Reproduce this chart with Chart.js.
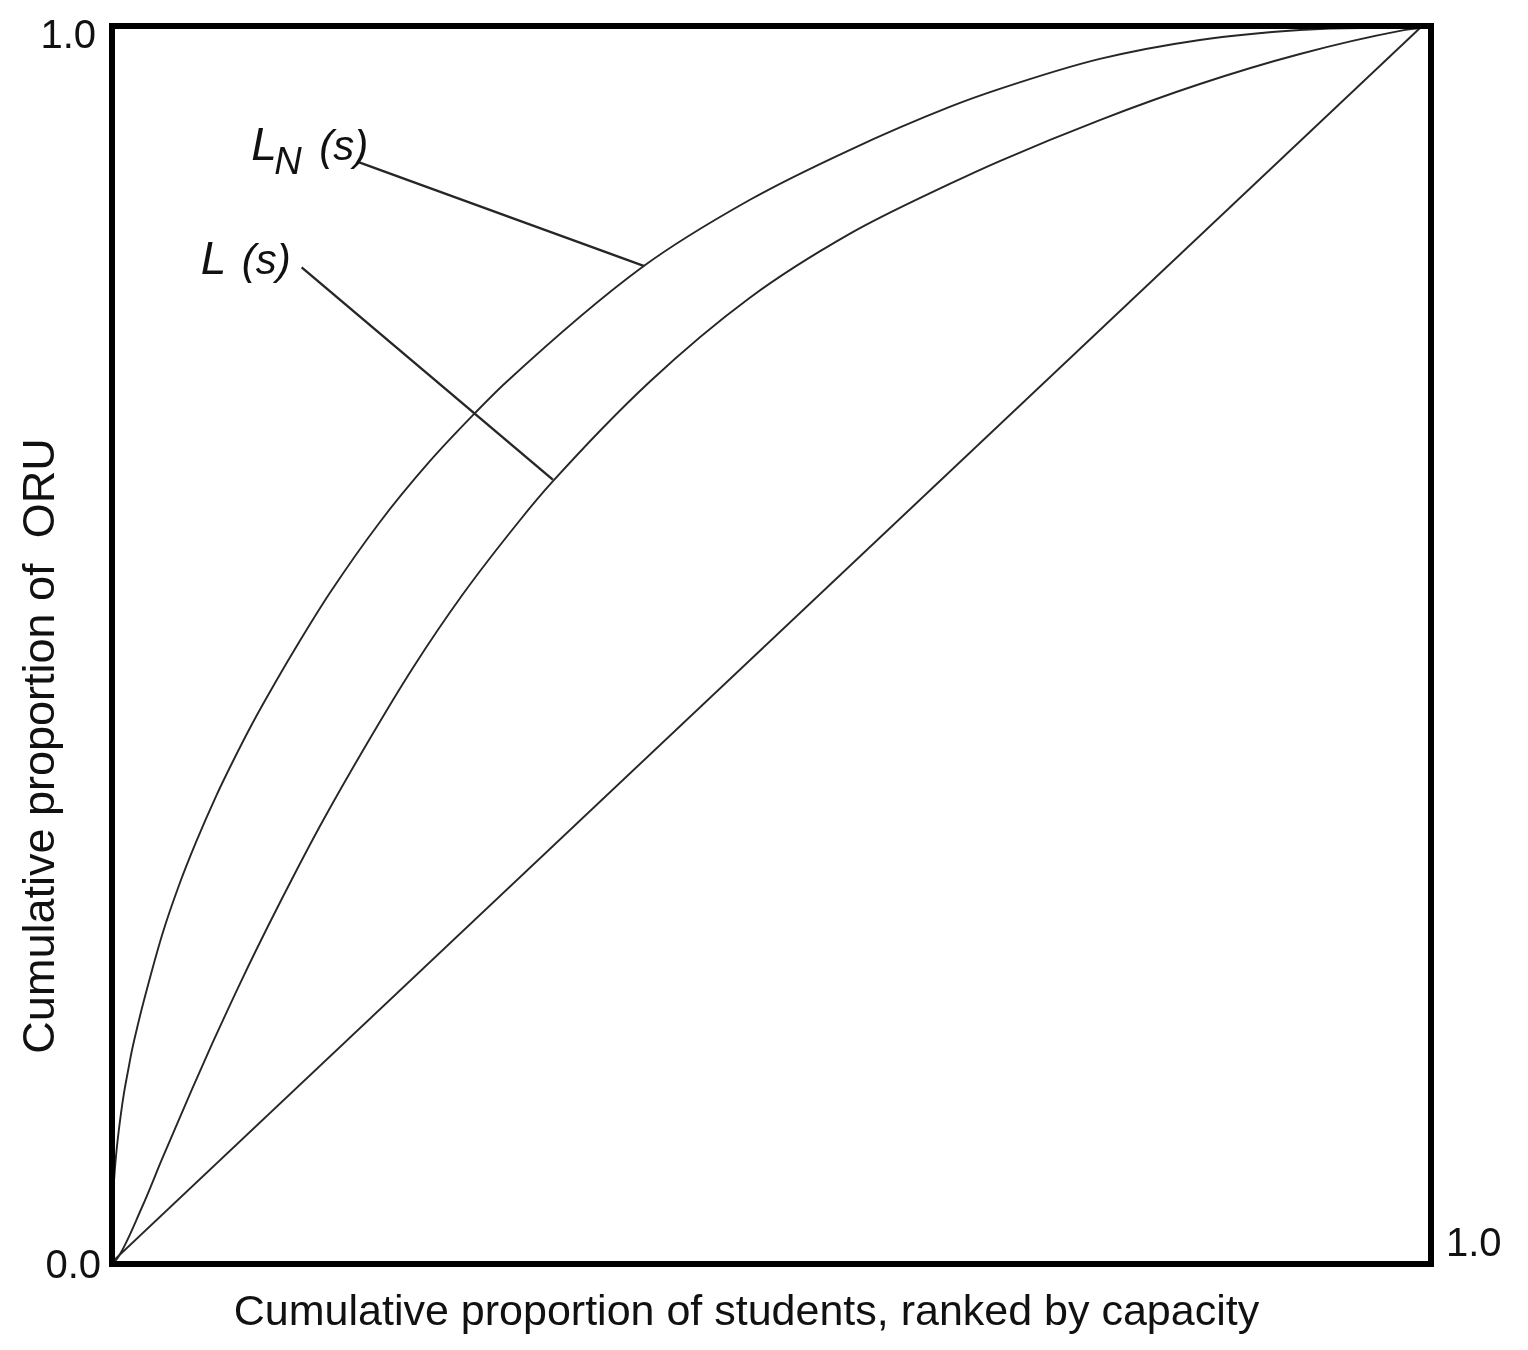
<!DOCTYPE html>
<html>
<head>
<meta charset="utf-8">
<script src="https://cdn.jsdelivr.net/npm/chart.js@4.4.1/dist/chart.umd.min.js"></script>
<style>
    html, body { margin: 0; padding: 0; background: #fff; }
    #wrap { width: 1528px; height: 1350px; }
</style>
</head>
<body>
<div id="wrap"><canvas id="lorenz"></canvas></div>
<script>
// cumulative share of students (x) and of ORU (y)
const lnShare = [0, 0.00004, 0.00077, 0.00153, 0.00306, 0.00459, 0.00689, 0.00918, 0.01224, 0.0153, 0.0199, 0.0245, 0.0383, 0.0513, 0.0643, 0.0796, 0.0918, 0.1071, 0.1255, 0.1431, 0.166, 0.2043, 0.2425, 0.2754, 0.3015, 0.4055, 0.4874, 0.5639, 0.6404, 0.6787, 0.7552, 0.8317, 0.9082, 0.9541, 1.0];
const lnValue = [0, 0.0243, 0.0519, 0.0656, 0.0859, 0.1013, 0.1207, 0.137, 0.1548, 0.1718, 0.1929, 0.2123, 0.265, 0.3055, 0.3404, 0.3776, 0.4044, 0.436, 0.4708, 0.5024, 0.5413, 0.5989, 0.6483, 0.6856, 0.7131, 0.8063, 0.8606, 0.9011, 0.936, 0.9506, 0.9749, 0.9903, 0.9984, 1.0, 1.0];

const lShare = [0, 0.0031, 0.023, 0.0383, 0.0612, 0.0765, 0.0995, 0.1201, 0.1408, 0.1607, 0.1943, 0.2295, 0.2678, 0.3114, 0.3366, 0.4109, 0.4874, 0.5639, 0.6404, 0.6787, 0.7552, 0.8317, 0.9082, 0.9847, 1.0];
const lValue = [0, 0.0016, 0.0446, 0.0835, 0.1402, 0.1767, 0.2293, 0.2739, 0.3169, 0.3566, 0.419, 0.4806, 0.5405, 0.6005, 0.6321, 0.7131, 0.7812, 0.8331, 0.8736, 0.8922, 0.9254, 0.9546, 0.9789, 0.9976, 1.0];

const equalShare = [0, 1];
const equalValue = [0, 1];

// leader lines from the labels to the curves
const lnLeaderX = [0.189, 0.407];
const lnLeaderY = [0.891, 0.807];
const lLeaderX = [0.145, 0.337];
const lLeaderY = [0.806, 0.634];

const xTitle = 'Cumulative proportion of students, ranked by capacity';
const yTitle = 'Cumulative proportion of  ORU';
const yTicks = ['0.0', '1.0'];
const xTicks = ['1.0'];

const toPoints = (xs, ys) => xs.map((x, i) => ({ x: x, y: ys[i] }));

const FONT = '"Liberation Sans", Arial, sans-serif';

// box, tick labels, axis titles and curve labels
const frame = {
    id: 'frame',
    afterDraw(chart) {
        const { ctx, chartArea: a, scales } = chart;
        ctx.save();
        ctx.strokeStyle = '#000';
        ctx.lineWidth = 6;
        ctx.strokeRect(a.left, a.top, a.right - a.left, a.bottom - a.top);

        ctx.fillStyle = '#111';
        ctx.font = '40px ' + FONT;
        ctx.textBaseline = 'middle';
        ctx.textAlign = 'right';
        ctx.fillText(yTicks[1], a.left - 16, scales.y.getPixelForValue(1) + 9);
        ctx.fillText(yTicks[0], a.left - 11, scales.y.getPixelForValue(0) + 5);
        ctx.textAlign = 'left';
        ctx.fillText(xTicks[0], a.right + 15, a.bottom - 19);

        ctx.font = '43px ' + FONT;
        ctx.textAlign = 'center';
        ctx.fillText(xTitle, (a.left + a.right) / 2 - 25, a.bottom + 49);
        ctx.save();
        ctx.font = '45px ' + FONT;
        ctx.translate(42, 746);
        ctx.rotate(-Math.PI / 2);
        ctx.fillText(yTitle, 0, 0);
        ctx.restore();

        // curve labels
        ctx.textAlign = 'left';
        ctx.textBaseline = 'alphabetic';
        const lx = scales.x.getPixelForValue(lnLeaderX[0]);
        const ly = scales.y.getPixelForValue(lnLeaderY[0]);
        ctx.font = 'italic 46px ' + FONT;
        ctx.fillText('L', lx - 108, ly - 2);
        ctx.font = 'italic 38px ' + FONT;
        ctx.fillText('N', lx - 85, ly + 12);
        ctx.font = 'italic 42px ' + FONT;
        ctx.fillText('(s)', lx - 40, ly - 2);

        const mx = scales.x.getPixelForValue(lLeaderX[0]);
        const my = scales.y.getPixelForValue(lLeaderY[0]);
        ctx.font = 'italic 46px ' + FONT;
        ctx.fillText('L', mx - 101, my + 7);
        ctx.font = 'italic 42px ' + FONT;
        ctx.fillText('(s)', mx - 60, my + 7);
        ctx.restore();
    }
};

const lineStyle = (pts, width) => ({
    data: pts,
    showLine: true,
    borderColor: '#262626',
    borderWidth: width,
    pointRadius: 0,
    fill: false,
});

new Chart(document.getElementById('lorenz'), {
    type: 'scatter',
    data: {
        datasets: [
            Object.assign(lineStyle(toPoints(lnShare, lnValue), 1.9), { label: 'L_N(s)', cubicInterpolationMode: 'monotone' }),
            Object.assign(lineStyle(toPoints(lShare, lValue), 1.9), { label: 'L(s)', cubicInterpolationMode: 'monotone' }),
            Object.assign(lineStyle(toPoints(equalShare, equalValue), 1.9), { label: 'equality' }),
            Object.assign(lineStyle(toPoints(lnLeaderX, lnLeaderY), 2.4), { label: 'leader LN' }),
            Object.assign(lineStyle(toPoints(lLeaderX, lLeaderY), 2.4), { label: 'leader L' }),
        ],
    },
    options: {
        responsive: true,
        maintainAspectRatio: false,
        animation: false,
        layout: { padding: { left: 112, right: 97, top: 26, bottom: 86 } },
        plugins: { legend: { display: false }, tooltip: { enabled: false } },
        scales: {
            x: { type: 'linear', min: 0, max: 1.0084, display: false },
            y: { type: 'linear', min: -0.0016, max: 1.0016, display: false },
        },
    },
    plugins: [frame],
});
</script>
</body>
</html>
